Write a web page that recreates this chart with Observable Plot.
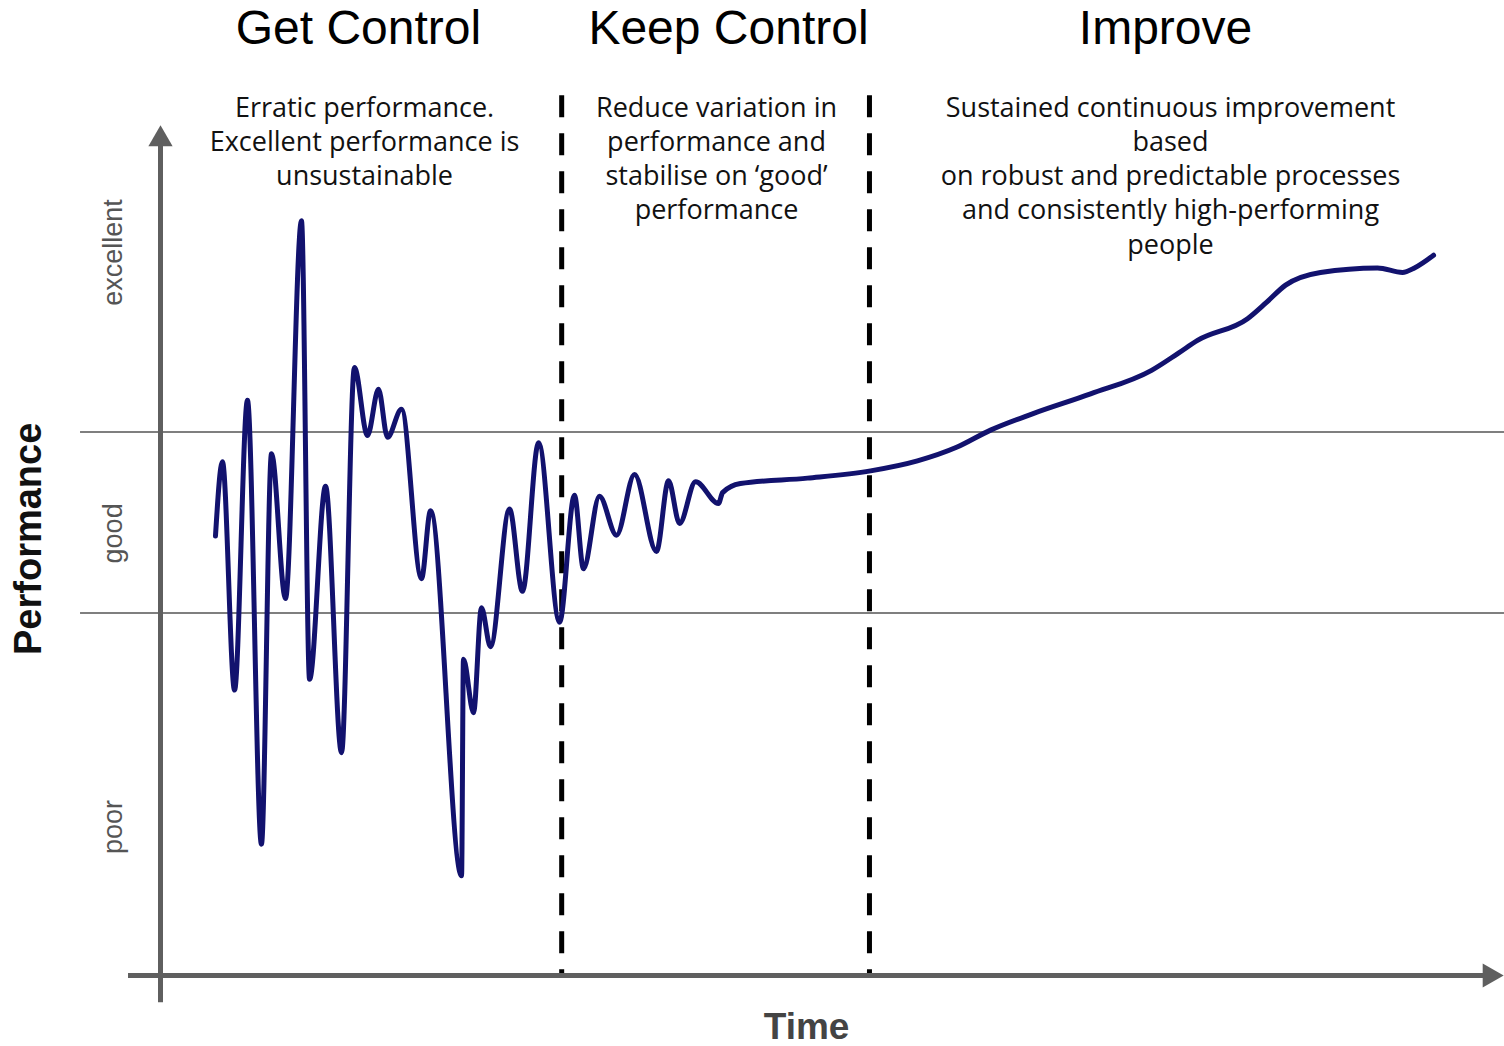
<!DOCTYPE html>
<html>
<head>
<meta charset="utf-8">
<script src="https://cdn.jsdelivr.net/npm/d3@7"></script>
<script src="https://cdn.jsdelivr.net/npm/@observablehq/plot@0.6"></script>
<style>
  html, body { margin: 0; padding: 0; background: #fff; overflow: hidden; }
  #chart svg { display: block; }
</style>
</head>
<body>
<div id="chart"></div>
<script>
// ---- data (time in % of horizon, performance in arbitrary units; "good" band = 4..6) ----
const time = [
  4.09, 4.61, 5.51, 6.47, 7.51, 8.26, 9.30, 10.49, 11.09, 12.28, 13.47, 14.43, 15.40, 16.22, 16.89, 17.93,
  19.42, 20.09, 22.40, 22.54, 23.29, 23.88, 24.55, 25.97, 26.93, 28.13, 29.69,
  30.80, 31.47, 32.66, 33.93, 35.27, 36.90, 37.80, 38.62, 39.81, 41.52, 41.82, 43.15, 48.14, 52.83,
  56.32, 59.23, 61.76, 64.88, 69.20, 73.74, 75.74, 77.16, 80.88, 82.29, 83.71, 86.31, 90.55, 92.41, 93.30, 94.72
];
const performance = [
  4.85, 5.67, 3.15, 6.35, 1.45, 5.76, 4.16, 8.33, 3.27, 5.40, 2.46, 6.71, 5.96, 6.47, 5.94, 6.25,
  4.38, 5.13, 1.10, 3.49, 2.90, 4.06, 3.63, 5.15, 4.24, 5.88, 3.90,
  5.30, 4.49, 5.29, 4.86, 5.53, 4.68, 5.46, 4.99, 5.45, 5.21, 5.33, 5.43, 5.49, 5.57,
  5.68, 5.83, 6.02, 6.20, 6.42, 6.68, 6.87, 7.01, 7.25, 7.43, 7.62, 7.76, 7.81, 7.76, 7.81, 7.95
];
const phaseNames = ["Get Control", "Keep Control", "Improve"];
const phaseCenters = [14.73, 42.26, 74.78];
const noteCenters = [15.18, 41.37, 75.15];
const phaseNotes = [
  "Erratic performance.\nExcellent performance is\nunsustainable",
  "Reduce variation in\nperformance and\nstabilise on \u2018good\u2019\nperformance",
  "Sustained continuous improvement\nbased\non robust and predictable processes\nand consistently high-performing\npeople"
];
const phaseBoundaries = [29.85, 52.75];
const goodBand = [4, 6];
const levelNames = ["excellent", "good", "poor"];
const levelPositions = [7.98, 4.88, 1.64];

// ---- layout constants (scale config) ----
const W = 1504, H = 1046;
const xDomain = [-11.905, 100];
const yDomain = [0, 10.762];
const headingY = 10.45, noteY = 9.75, dashTop = 9.71;
const axisColor = "#5f5f5f";

const curveData = time.map((t, i) => ({t, p: performance[i]}));
const phases = phaseNames.map((name, i) => ({name, x: phaseCenters[i], nx: noteCenters[i], note: phaseNotes[i]}));
const levels = levelNames.map((name, i) => ({name, p: levelPositions[i]}));

const chart = Plot.plot({
  width: W,
  height: H,
  marginLeft: 0, marginRight: 0, marginTop: 0, marginBottom: 71,
  x: {domain: xDomain, axis: null},
  y: {domain: yDomain, axis: null},
  style: {background: "#fff", overflow: "visible"},
  marks: [
    // good band boundaries
    Plot.ruleY(goodBand, {x1: -5.95, x2: 100, stroke: "#555", strokeWidth: 1.5}),
    // phase boundaries
    Plot.ruleX(phaseBoundaries, {y1: dashTop, y2: 0, stroke: "#000", strokeWidth: 5, strokeDasharray: "22,16"}),
    // axes
    Plot.ruleX([0], {y1: -0.30, y2: 9.23, stroke: axisColor, strokeWidth: 5}),
    Plot.ruleY([0], {x1: -2.38, x2: 98.9, stroke: axisColor, strokeWidth: 5}),
    Plot.dot([{t: 0, p: 9.23}], {x: "t", y: "p", symbol: "triangle", r: 9, fill: axisColor, stroke: null}),
    Plot.dot([{t: 98.9, p: 0}], {x: "t", y: "p", symbol: "triangle", r: 9, rotate: 90, fill: axisColor, stroke: null}),
    // performance curve
    Plot.line(curveData, {x: "t", y: "p", curve: "monotone-x", stroke: "#12126e", strokeWidth: 5, strokeLinejoin: "round", strokeLinecap: "round"}),
    // phase headings
    Plot.text(phases, {x: "x", y: () => headingY, text: "name", fontSize: 48, fontFamily: "Liberation Sans, Arial, sans-serif", fill: "#000", lineAnchor: "middle"}),
    // phase notes
    Plot.text(phases, {x: "nx", y: () => noteY, text: "note", fontSize: 27, fontFamily: "Open Sans, Noto Sans, sans-serif", fill: "#111", lineAnchor: "top", lineHeight: 1.27, letterSpacing: "-0.4px"}),
    // level labels
    Plot.text(levels, {x: () => -3.5, y: "p", text: "name", rotate: -90, fontSize: 27, fontFamily: "Liberation Sans, Arial, sans-serif", fill: "#555"}),
    // axis titles
    Plot.text(["Performance"], {x: () => -9.82, y: () => 4.82, text: d => d, rotate: -90, fontSize: 38, fontWeight: "bold", fontFamily: "Liberation Sans, Arial, sans-serif", fill: "#111"}),
    Plot.text(["Time"], {x: () => 48.07, y: () => -0.57, text: d => d, fontSize: 37, fontWeight: "bold", fontFamily: "Liberation Sans, Arial, sans-serif", fill: "#444"})
  ]
});
document.getElementById("chart").appendChild(chart);
</script>
</body>
</html>
